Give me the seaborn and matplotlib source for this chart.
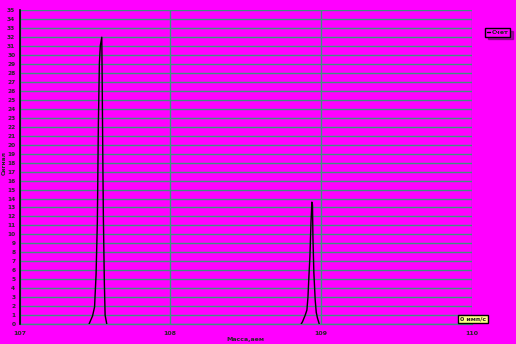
import matplotlib
matplotlib.use("Agg")
import matplotlib.pyplot as plt
import seaborn as sns
import pandas as pd
import numpy as np
from matplotlib.lines import Line2D

# ---- data ----
peak1_mass = [107.4615, 107.4847, 107.498, 107.508, 107.5166, 107.5232, 107.530,
              107.5365, 107.546, 107.548, 107.5525, 107.5565, 107.563, 107.568, 107.579]
peak1_signal = [0.0, 0.9, 1.9, 5.5, 11.4, 22.2, 29.1, 31.1, 32.0, 28.3, 19.1, 11.9, 4.6, 1.0, 0.0]

peak2_mass = [108.869, 108.878, 108.896, 108.907, 108.914, 108.920, 108.927, 108.934,
              108.940, 108.944, 108.947, 108.953, 108.962, 108.969, 108.977, 108.989]
peak2_signal = [0.0, 0.26, 1.0, 1.56, 3.0, 5.2, 7.5, 11.3, 13.6, 13.3, 9.7, 5.8, 2.7, 1.3, 0.67, 0.0]

x_ticks = [107, 108, 109, 110]
y_ticks = list(range(0, 36))
series_label = "Счет"
x_label = "Масса,аем"
y_label = "Сигнал"
rate_text = "0 имп/с"

df = pd.DataFrame({
    "mass": peak1_mass + peak2_mass,
    "signal": peak1_signal + peak2_signal,
    "peak": ["p1"] * len(peak1_mass) + ["p2"] * len(peak2_mass),
})

sns.set_style("white")
plt.rcParams['font.family'] = ['DejaVu Sans']

MAG = "#ff00ff"
GRID = "#3f9080"

fig = plt.figure(figsize=(5.16, 3.44), dpi=100, facecolor=MAG)
ax = fig.add_axes([0.0378, 0.0581, 0.914 - 0.0378, 0.970 - 0.0581])
ax.set_facecolor(MAG)

ax.set_xlim(107, 110)
ax.set_ylim(0, 35)

# grid
for v in y_ticks:
    ax.axhline(v, color=GRID, lw=1.0, zorder=1)
for v in x_ticks:
    ax.axvline(v, color=GRID, lw=1.0, zorder=1)

sns.lineplot(data=df, x="mass", y="signal", units="peak", estimator=None,
             sort=False, color="black", lw=1.0, ax=ax, zorder=3, legend=False)
ax.set_xlabel("")
ax.set_ylabel("")

ax.set_xticks(x_ticks)
ax.set_xticklabels([str(t) for t in x_ticks], fontsize=4.5, fontweight="bold")
ax.set_xticks(np.arange(107, 110.01, 0.25), minor=True)
ax.set_yticks(y_ticks)
ax.set_yticklabels([str(t) for t in y_ticks], fontsize=4.2, fontweight="bold")
ax.tick_params(axis="x", which="both", length=2, color=GRID, pad=3, width=0.8)
ax.tick_params(axis="y", which="both", length=2, color="black", pad=1, width=0.8)

for s in ["top", "right"]:
    ax.spines[s].set_visible(False)
ax.spines["bottom"].set_color(GRID)
ax.spines["bottom"].set_linewidth(1.0)
ax.spines["left"].set_color("black")
ax.spines["left"].set_linewidth(1.2)
ax.spines["left"].set_zorder(4)

# axis labels placed explicitly so they stay inside the figure
fig.text(245 / 516, 1 - 339 / 344, x_label, fontsize=4.5, fontweight="bold",
         ha="center", va="center")
fig.text(4 / 516, 1 - 163 / 344, y_label, fontsize=4.2, fontweight="bold",
         ha="center", va="center", rotation=90)

# legend
handle = Line2D([0], [0], color="black", lw=1.0)
leg = fig.legend([handle], [series_label], loc="upper left",
                 bbox_to_anchor=(485 / 516, 1 - 28 / 344),
                 handlelength=0.5, handletextpad=0.3,
                 borderpad=0.25, borderaxespad=0.0, frameon=True, fancybox=False, shadow=True,
                 prop={"size": 4.5, "weight": "bold"})
leg.get_frame().set_facecolor(MAG)
leg.get_frame().set_edgecolor("black")
leg.get_frame().set_linewidth(1.0)

# rate box
fig.text(460 / 516, 1 - 319 / 344, rate_text, fontsize=4.5, fontweight="bold",
         va="center", ha="left",
         bbox=dict(boxstyle="square,pad=0.3", facecolor="#ffff80", edgecolor="black", lw=1.0))

fig.savefig("out.png", dpi=100, facecolor=MAG)
